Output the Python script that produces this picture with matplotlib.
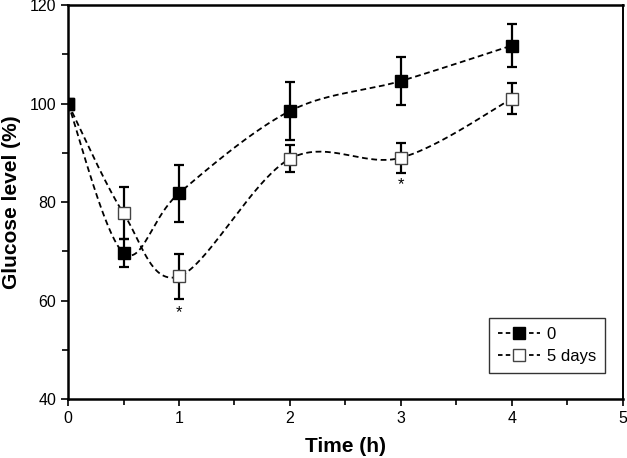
import numpy as np
import matplotlib
matplotlib.use("Agg")
import matplotlib.pyplot as plt
from matplotlib.ticker import MultipleLocator

plt.rcParams["font.family"] = ["Liberation Sans", "DejaVu Sans"]

# data
time_h = [0, 0.5, 1, 2, 3, 4]
glucose_0 = [100, 69.7, 81.8, 98.5, 104.6, 111.8]
err_0 = [0, 2.8, 5.8, 5.9, 4.9, 4.3]
glucose_5d = [100, 77.7, 64.9, 88.8, 89.0, 101.0]
err_5d = [0, 5.3, 4.6, 2.7, 3.0, 3.2]
star_x = [1, 3]
star_y = [57.5, 83.5]
labels = ["0", "5 days"]


def smooth_curve(x, y, sx=111.0, sy=4.925, n=40):
    # Excel-like smoothed line: bezier with control points from neighbours (catmull-rom)
    p = np.column_stack([np.asarray(x) * sx, np.asarray(y) * sy])
    pts = np.vstack([p[0], p, p[-1]])
    out = []
    t = np.linspace(0, 1, n)[:, None]
    for i in range(1, len(pts) - 2):
        p0, p1, p2, p3 = pts[i - 1], pts[i], pts[i + 1], pts[i + 2]
        c1 = p1 + (p2 - p0) / 6
        c2 = p2 - (p3 - p1) / 6
        seg = ((1 - t) ** 3) * p1 + 3 * ((1 - t) ** 2) * t * c1 + 3 * (1 - t) * t ** 2 * c2 + t ** 3 * p2
        out.append(seg if i == 1 else seg[1:])
    out = np.vstack(out)
    return out[:, 0] / sx, out[:, 1] / sy


fig = plt.figure(figsize=(6.27, 4.58), dpi=100)
ax = fig.add_axes([0.1085, 0.1288, 0.885, 0.860])

dash = (0, (3.2, 2.0))

# filled series
xs, ys = smooth_curve(time_h, glucose_0)
ax.plot(xs, ys, color="black", lw=1.3, linestyle=dash, zorder=2)
ax.errorbar(time_h, glucose_0, yerr=err_0, fmt="none", ecolor="black",
            elinewidth=1.6, capsize=3.5, capthick=1.6, zorder=3)
ax.plot(time_h, glucose_0, "s", color="black", ms=8.5, zorder=4)

# open series
xs, ys = smooth_curve(time_h, glucose_5d)
ax.plot(xs, ys, color="black", lw=1.3, linestyle=dash, zorder=2)
ax.errorbar(time_h, glucose_5d, yerr=err_5d, fmt="none", ecolor="black",
            elinewidth=1.6, capsize=3.5, capthick=1.6, zorder=3)
ax.plot(time_h[1:], glucose_5d[1:], "s", mfc="white", mec="#444444", mew=1.0,
        ms=8.5, zorder=4)
# redraw first filled point on top
ax.plot(time_h[:1], glucose_0[:1], "s", color="black", ms=8.5, zorder=5)

for x, y in zip(star_x, star_y):
    ax.text(x, y, "*", ha="center", va="center", fontsize=12)

# legend proxies
h0, = ax.plot([], [], color="black", lw=1.3, linestyle=(0, (2.5, 1.8)), marker="s",
              ms=8, mfc="black", mec="black")
h1, = ax.plot([], [], color="black", lw=1.3, linestyle=(0, (2.5, 1.8)), marker="s",
              ms=8, mfc="white", mec="#444444", mew=1.0)
leg = ax.legend([h0, h1], labels, loc="lower right", bbox_to_anchor=(0.9676, 0.066),
                borderaxespad=0, fontsize=12, frameon=True, fancybox=False,
                edgecolor="black", handlelength=2.5, handletextpad=0.4,
                borderpad=0.55, labelspacing=0.4)
leg.get_frame().set_linewidth(1.0)

ax.set_xlim(0, 5)
ax.set_ylim(40, 120)
ax.xaxis.set_major_locator(MultipleLocator(1))
ax.xaxis.set_minor_locator(MultipleLocator(0.5))
ax.yaxis.set_major_locator(MultipleLocator(20))
ax.yaxis.set_minor_locator(MultipleLocator(10))
ax.tick_params(which="both", direction="out", width=1.2, labelsize=11.5)
ax.tick_params(which="major", length=5)
ax.tick_params(which="minor", length=4)

for s in ["left", "bottom", "top"]:
    ax.spines[s].set_linewidth(1.8)
ax.spines["right"].set_linewidth(1.4)

ax.set_xlabel("Time (h)", fontsize=15, fontweight="bold", labelpad=8)
ax.set_ylabel("Glucose level (%)", fontsize=15, fontweight="bold", labelpad=6)

fig.savefig("out.png", dpi=100)
